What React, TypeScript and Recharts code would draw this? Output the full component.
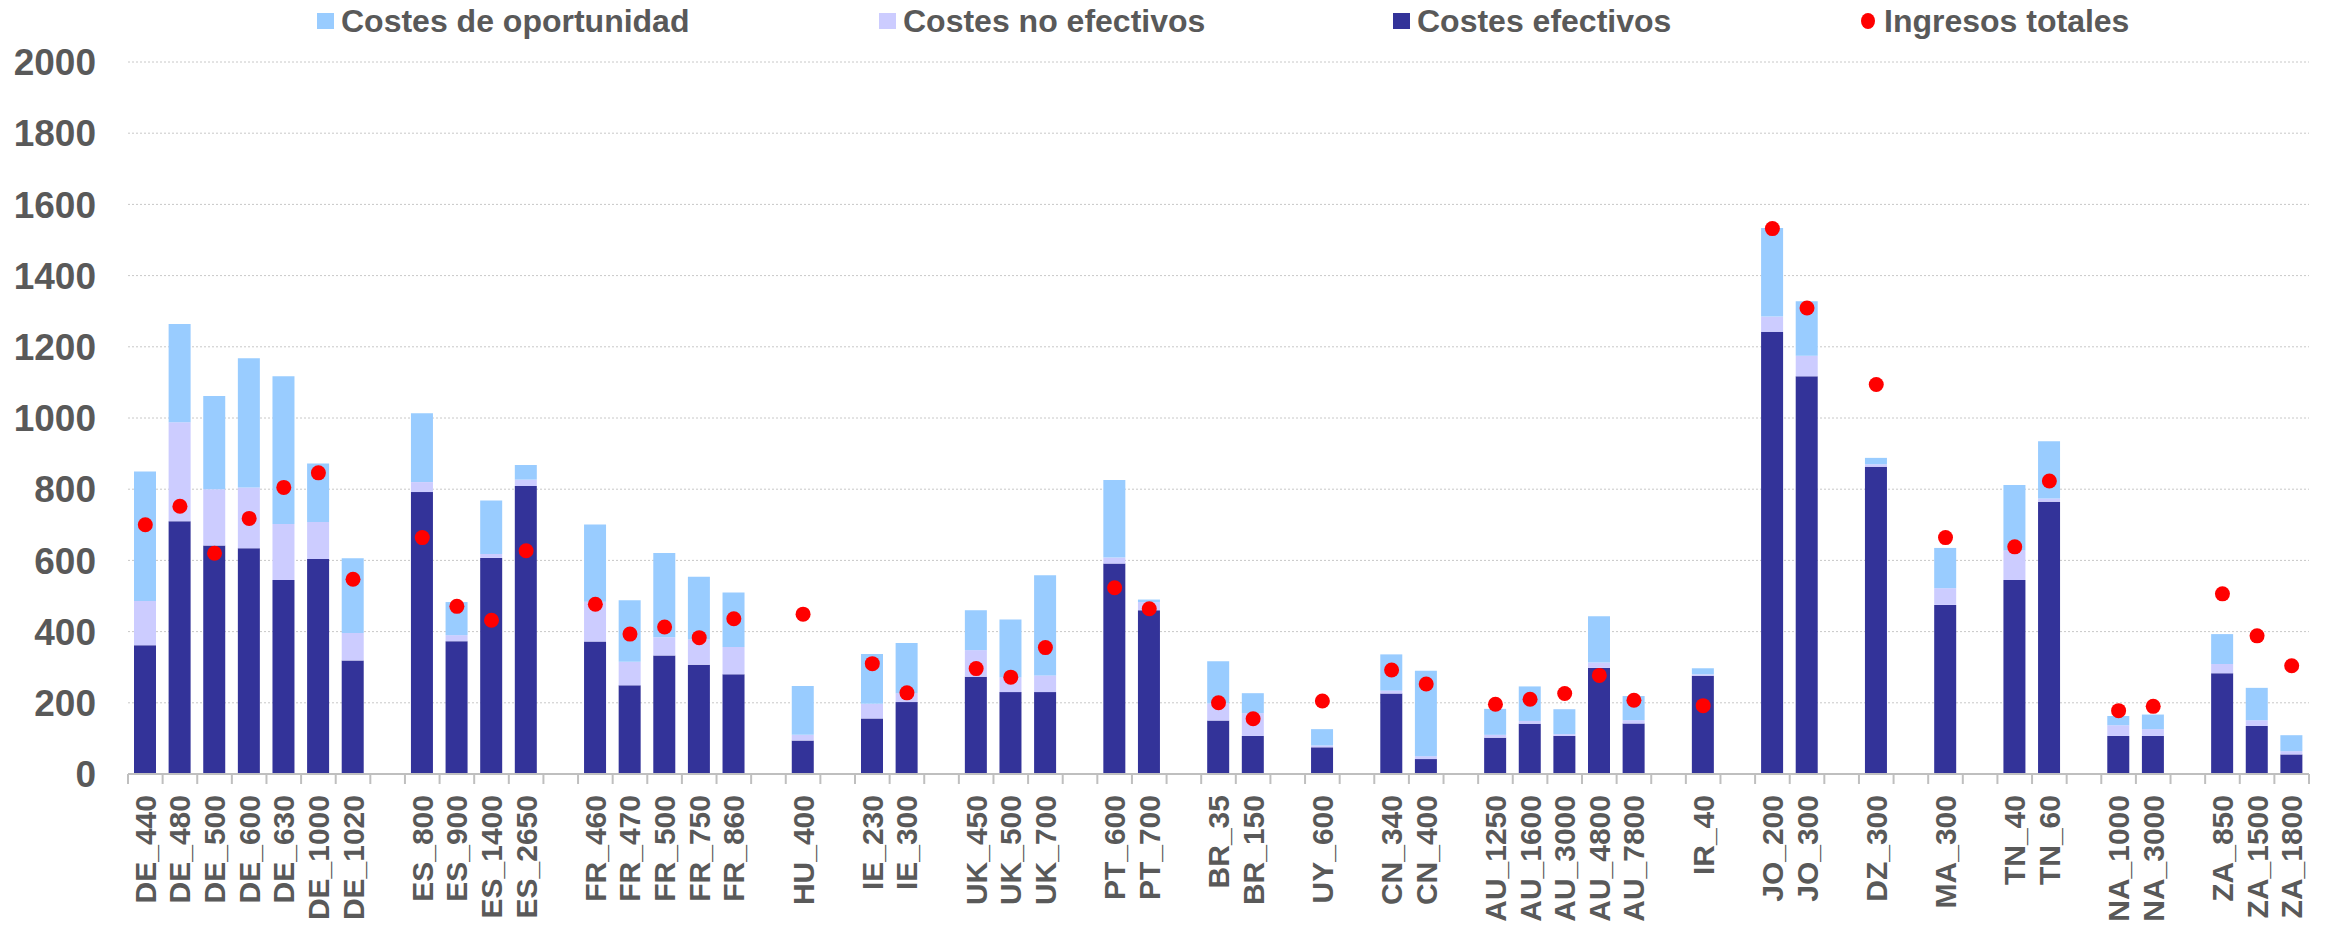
import React from "react";
import {
  ComposedChart,
  Bar,
  Line,
  XAxis,
  YAxis,
  CartesianGrid,
} from "recharts";

// "" = empty slot between country groups
const categories = [
  "DE_440", "DE_480", "DE_500", "DE_600", "DE_630", "DE_1000", "DE_1020", "",
  "ES_800", "ES_900", "ES_1400", "ES_2650", "",
  "FR_460", "FR_470", "FR_500", "FR_750", "FR_860", "",
  "HU_400", "",
  "IE_230", "IE_300", "",
  "UK_450", "UK_500", "UK_700", "",
  "PT_600", "PT_700", "",
  "BR_35", "BR_150", "",
  "UY_600", "",
  "CN_340", "CN_400", "",
  "AU_1250", "AU_1600", "AU_3000", "AU_4800", "AU_7800", "",
  "IR_40", "",
  "JO_200", "JO_300", "",
  "DZ_300", "",
  "MA_300", "",
  "TN_40", "TN_60", "",
  "NA_1000", "NA_3000", "",
  "ZA_850", "ZA_1500", "ZA_1800",
];

const costesEfectivos = [
  362, 710, 642, 634, 545, 604, 319, null,
  792, 373, 607, 809, null,
  372, 249, 333, 307, 280, null,
  94, null,
  156, 202, null,
  273, 230, 230, null,
  591, 460, null,
  150, 107, null,
  75, null,
  226, 42, null,
  102, 141, 107, 298, 142, null,
  276, null,
  1242, 1117, null,
  863, null,
  475, null,
  545, 765, null,
  107, 107, null,
  283, 135, 55,
];

const costesNoEfectivos = [
  124, 278, 158, 171, 157, 104, 77, null,
  28, 17, 11, 18, null,
  112, 66, 51, 71, 77, null,
  16, null,
  41, 25, null,
  75, 42, 47, null,
  17, 23, null,
  48, 64, null,
  5, null,
  8, 8, null,
  8, 8, 5, 15, 9, null,
  4, null,
  43, 58, null,
  7, null,
  47, null,
  83, 9, null,
  30, 19, null,
  26, 16, 9,
];

const costesOportunidad = [
  364, 276, 262, 363, 415, 164, 210, null,
  193, 93, 150, 41, null,
  217, 173, 237, 176, 153, null,
  137, null,
  140, 141, null,
  112, 162, 281, null,
  218, 7, null,
  119, 56, null,
  46, null,
  102, 240, null,
  73, 97, 70, 130, 68, null,
  17, null,
  249, 153, null,
  18, null,
  113, null,
  184, 161, null,
  26, 41, null,
  84, 91, 45,
];

const ingresosTotales = [
  700, 752, 620, 718, 805, 846, 547, null,
  664, 471, 432, 627, null,
  477, 393, 413, 383, 436, null,
  449, null,
  310, 228, null,
  296, 272, 355, null,
  523, 464, null,
  200, 155, null,
  205, null,
  292, 253, null,
  196, 210, 226, 277, 207, null,
  192, null,
  1532, 1309, null,
  1094, null,
  664, null,
  638, 823, null,
  178, 190, null,
  506, 388, 304,
];

const yTicks = [0, 200, 400, 600, 800, 1000, 1200, 1400, 1600, 1800, 2000];

const data = categories.map((name, i) => ({
  name,
  efectivos: costesEfectivos[i],
  noEfectivos: costesNoEfectivos[i],
  oportunidad: costesOportunidad[i],
  ingresos: ingresosTotales[i],
}));

const COLORS = {
  oportunidad: "#99CCFF",
  noEfectivos: "#CCCCFF",
  efectivos: "#333399",
  ingresos: "#FF0000",
  text: "#595959",
  grid: "#C8C8C8",
  axis: "#BFBFBF",
};

const FONT = "'Liberation Sans', Arial, sans-serif";

const W = 2331;
const H = 937;
const PLOT_LEFT = 128;
const PLOT_RIGHT = 2309;
const STEP = (PLOT_RIGHT - PLOT_LEFT) / categories.length;

// excel-style axis: tick marks sit between categories, labels rotated
const CategoryTick = (props: any) => {
  const { x, y, payload, index } = props;
  const left = x - STEP / 2;
  const last = index === categories.length - 1;
  return (
    <g>
      <line x1={left} y1={y} x2={left} y2={y + 10} stroke={COLORS.axis} strokeWidth={2} />
      {last && (
        <line x1={x + STEP / 2} y1={y} x2={x + STEP / 2} y2={y + 10} stroke={COLORS.axis} strokeWidth={2} />
      )}
      {payload.value && (
        <text
          x={x}
          y={y + 21}
          transform={`rotate(-90, ${x}, ${y + 21})`}
          textAnchor="end"
          dominantBaseline="central"
          fill={COLORS.text}
          fontSize={30}
          fontWeight="bold"
          fontFamily={FONT}
        >
          {payload.value}
        </text>
      )}
    </g>
  );
};

const legendItems = [
  { label: "Costes de oportunidad", color: COLORS.oportunidad, shape: "square", x: 317 },
  { label: "Costes no efectivos", color: COLORS.noEfectivos, shape: "square", x: 879 },
  { label: "Costes efectivos", color: COLORS.efectivos, shape: "square", x: 1393 },
  { label: "Ingresos totales", color: COLORS.ingresos, shape: "dot", x: 1861 },
];

function LegendBar() {
  return (
    <svg
      width={W}
      height={50}
      style={{ position: "absolute", left: 0, top: 0 }}
    >
      {legendItems.map((item) => (
        <g key={item.label}>
          {item.shape === "square" ? (
            <rect x={item.x} y={13} width={17} height={16} fill={item.color} />
          ) : (
            <ellipse cx={item.x + 7} cy={21} rx={7} ry={8} fill={item.color} />
          )}
          <text
            x={item.x + (item.shape === "square" ? 24 : 23)}
            y={32}
            fill={COLORS.text}
            fontSize={32}
            fontWeight="bold"
            fontFamily={FONT}
          >
            {item.label}
          </text>
        </g>
      ))}
    </svg>
  );
}

export default function App() {
  return (
    <div style={{ position: "absolute", left: 0, top: 0, width: W, height: H, background: "#fff" }}>
      <ComposedChart
        width={W}
        height={H}
        data={data}
        margin={{ top: 62, right: W - PLOT_RIGHT, left: 0, bottom: 0 }}
        barCategoryGap={0}
      >
        <CartesianGrid vertical={false} stroke={COLORS.grid} strokeDasharray="2 2" />
        <XAxis
          dataKey="name"
          interval={0}
          height={H - 774}
          tickLine={false}
          tickSize={0}
          tickMargin={0}
          axisLine={{ stroke: COLORS.axis, strokeWidth: 2 }}
          tick={<CategoryTick />}
        />
        <YAxis
          domain={[0, 2000]}
          ticks={yTicks}
          width={PLOT_LEFT}
          axisLine={false}
          tickLine={false}
          tickSize={0}
          tickMargin={32}
          tick={{ fill: COLORS.text, fontSize: 37, fontWeight: "bold", fontFamily: FONT }}
        />
        <Bar dataKey="efectivos" stackId="a" fill={COLORS.efectivos} barSize={22} isAnimationActive={false} />
        <Bar dataKey="noEfectivos" stackId="a" fill={COLORS.noEfectivos} barSize={22} isAnimationActive={false} />
        <Bar dataKey="oportunidad" stackId="a" fill={COLORS.oportunidad} barSize={22} isAnimationActive={false} />
        <Line
          dataKey="ingresos"
          stroke="none"
          dot={{ r: 7.5, fill: COLORS.ingresos, stroke: "none" }}
          activeDot={false}
          isAnimationActive={false}
        />
      </ComposedChart>
      <LegendBar />
    </div>
  );
}
